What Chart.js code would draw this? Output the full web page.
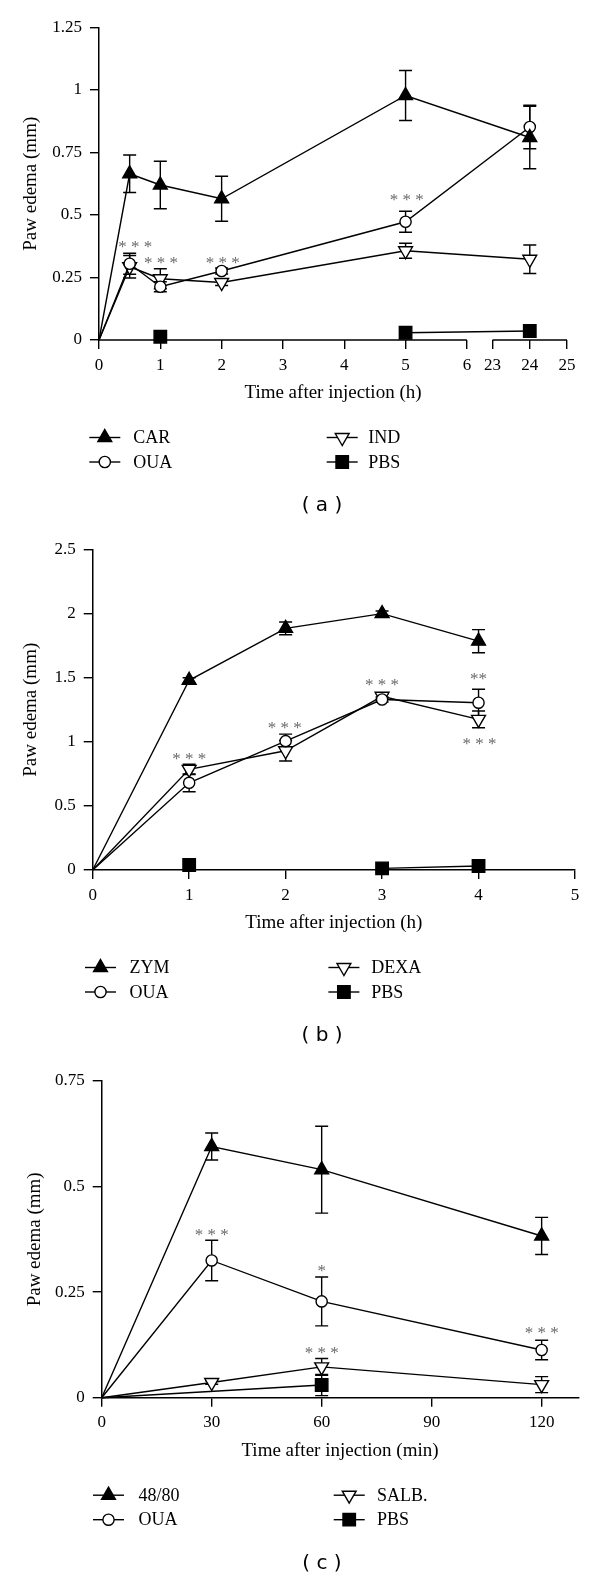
<!DOCTYPE html>
<html><head><meta charset="utf-8">
<script src="https://cdn.jsdelivr.net/npm/chart.js@4.4.1/dist/chart.umd.min.js"></script>
<style>
html,body{margin:0;padding:0;background:#fff;}
canvas{display:block;}
</style></head><body>
<canvas id="ca" width="600" height="526"></canvas>
<canvas id="cb" width="600" height="526"></canvas>
<canvas id="cc" width="600" height="525"></canvas>
<script>
// ================= DATA =================
// Panel (a): carrageenan, time in hours (broken axis 6 -> 23)
const timeA   = [0, 0.5, 1, 2, 5, 24];
const carA    = [0, 0.665, 0.62, 0.565, 0.978, 0.81];
const carErrA = [0, 0.075, 0.095, 0.09, 0.1, 0.125];
const ouaA    = [0, 0.305, 0.213, 0.276, 0.473, 0.852];
const ouaErrA = [0, 0.042, 0.02, 0.012, 0.042, 0.087];
const indA    = [0, 0.293, 0.245, 0.23, 0.357, 0.323];
const indErrA = [0, 0.045, 0.04, 0.012, 0.03, 0.057];
const pbsA    = [null, null, 0.013, null, 0.029, 0.036];
const xTicksA = [0, 1, 2, 3, 4, 5, 6, 23, 24, 25];
const yTicksA = [0, 0.25, 0.5, 0.75, 1, 1.25];
const sigXA   = [0.59, 1.01, 2.02, 5.02];
const sigYA   = [0.384, 0.32, 0.32, 0.573];
const sigTA   = ['* * *', '* * *', '* * *', '* * *'];

// Panel (b): zymosan, time in hours
const timeB    = [0, 1, 2, 3, 4];
const zymB     = [0, 1.48, 1.885, 2.0, 1.785];
const zymErrB  = [0, 0.02, 0.05, 0.02, 0.09];
const ouaB     = [0, 0.68, 1.005, 1.33, 1.305];
const ouaErrB  = [0, 0.07, 0.055, 0.02, 0.105];
const dexaB    = [0, 0.785, 0.93, 1.355, 1.175];
const dexaErrB = [0, 0.04, 0.08, 0.02, 0.065];
const pbsB     = [null, 0.039, null, 0.013, 0.031];
const xTicksB  = [0, 1, 2, 3, 4, 5];
const yTicksB  = [0, 0.5, 1, 1.5, 2, 2.5];
const sigXB    = [1, 1.99, 3, 4, 4.01];
const sigYB    = [0.889, 1.131, 1.469, 1.513, 1.009];
const sigTB    = ['* * *', '* * *', '* * *', '**', '* * *'];

// Panel (c): compound 48/80, time in minutes
const timeC    = [0, 30, 60, 120];
const c4880C   = [0, 0.595, 0.54, 0.383];
const c4880ErrC= [0, 0.032, 0.103, 0.044];
const ouaC     = [0, 0.325, 0.228, 0.113];
const ouaErrC  = [0, 0.048, 0.058, 0.023];
const salbC    = [0, 0.036, 0.073, 0.031];
const salbErrC = [0, 0.004, 0.02, 0.019];
const pbsC     = [0, null, 0.03, null];
const pbsErrC  = [0, 0, 0.025, 0];
const xTicksC  = [0, 30, 60, 90, 120];
const yTicksC  = [0, 0.25, 0.5, 0.75];
const sigXC    = [30, 60, 60, 120];
const sigYC    = [0.393, 0.308, 0.113, 0.16];
const sigTC    = ['* * *', '*', '* * *', '* * *'];

// ================= STYLE / LAYOUT =================
const SERIF = '"Liberation Serif", "DejaVu Serif", serif';
const SANS = '"DejaVu Sans", "Liberation Sans", sans-serif';
const LW = 1.4;
const CAP = 6.5;
// broken axis mapping for panel (a): 23..25 h squeezed after a gap
const GAP_A = 0.419, LATE_A = 0.607;
function brkA(t) { return t <= 6 ? t : 6 + GAP_A + (t - 23) * LATE_A; }

const STY = {
  tri:  { pointStyle: 'triangle', pointRotation: 0,   pointRadius: 8,   bg: '#000' },
  circ: { pointStyle: 'circle',   pointRotation: 0,   pointRadius: 5.6, bg: '#fff' },
  itri: { pointStyle: 'triangle', pointRotation: 180, pointRadius: 8,   bg: '#fff' },
  sq:   { pointStyle: 'rect',     pointRotation: 0,   pointRadius: 8.8, bg: '#000' }
};

function mkDs(label, xs, ys, errs, sty, span, xf) {
  const f = xf || (v => v);
  return {
    label,
    data: xs.map((x, i) => ({ x: f(x), y: ys[i] })),
    err: errs,
    sty,
    borderColor: '#000',
    borderWidth: LW,
    pointStyle: sty.pointStyle,
    pointRotation: sty.pointRotation,
    pointRadius: c => (c.raw && c.raw.x === 0 ? 0 : sty.pointRadius),
    pointBackgroundColor: sty.bg,
    pointBorderColor: '#000',
    pointBorderWidth: LW,
    pointHoverRadius: 0,
    fill: false,
    tension: 0,
    spanGaps: !!span,
    clip: false
  };
}

function drawMarker(ctx, sty, x, y) {
  ctx.save();
  ctx.fillStyle = sty.bg;
  ctx.strokeStyle = '#000';
  ctx.lineWidth = LW;
  Chart.helpers.drawPoint(ctx, {
    pointStyle: sty.pointStyle, rotation: sty.pointRotation,
    radius: sty.pointRadius, borderWidth: LW
  }, x, y);
  ctx.restore();
}

const decor = {
  id: 'decor',
  beforeDatasetsDraw(chart, args, o) {
    const ctx = chart.ctx, xs = chart.scales.x, ys = chart.scales.y;
    const ca = chart.chartArea;
    ctx.save();
    ctx.strokeStyle = '#000';
    // broken x axis line
    if (o.segments) {
      ctx.lineWidth = 1.5;
      o.segments.forEach(s => {
        ctx.beginPath();
        ctx.moveTo(xs.getPixelForValue(s[0]), ca.bottom);
        ctx.lineTo(xs.getPixelForValue(s[1]), ca.bottom);
        ctx.stroke();
      });
    }
    // error bars
    ctx.lineWidth = LW;
    chart.data.datasets.forEach(ds => {
      if (!ds.err) return;
      ds.data.forEach((p, j) => {
        const e = ds.err[j];
        if (p.y == null || !e) return;
        const px = xs.getPixelForValue(p.x);
        const y1 = ys.getPixelForValue(p.y + e), y2 = ys.getPixelForValue(p.y - e);
        ctx.beginPath();
        ctx.moveTo(px, y1); ctx.lineTo(px, y2);
        ctx.moveTo(px - CAP, y1); ctx.lineTo(px + CAP, y1);
        ctx.moveTo(px - CAP, y2); ctx.lineTo(px + CAP, y2);
        ctx.stroke();
      });
    });
    ctx.restore();
  },
  afterDraw(chart, args, o) {
    const ctx = chart.ctx, xs = chart.scales.x, ys = chart.scales.y;
    const ca = chart.chartArea;
    ctx.save();
    // significance stars
    ctx.fillStyle = '#6a6a6a';
    ctx.font = '17px ' + SERIF;
    ctx.textAlign = 'center';
    ctx.textBaseline = 'alphabetic';
    const xf = o.xf || (v => v);
    o.sigX.forEach((sx, i) => {
      const px = xs.getPixelForValue(xf(sx));
      const py = ys.getPixelForValue(o.sigY[i]);
      ctx.fillText(o.sigT[i], px, py + 0.47 * 17);
    });
    // legend
    const ds = chart.data.datasets;
    const rows = [ca.bottom + 97.5, ca.bottom + 122];
    const cols = o.legendCols;
    ctx.font = '18px ' + SERIF;
    ctx.textAlign = 'left';
    ctx.textBaseline = 'middle';
    o.legendOrder.forEach((di, k) => {
      const col = cols[Math.floor(k / 2)];
      const y = rows[k % 2];
      const x0 = ca.left + col[0], x1 = x0 + 31;
      ctx.strokeStyle = '#000';
      ctx.lineWidth = LW;
      ctx.beginPath(); ctx.moveTo(x0, y); ctx.lineTo(x1, y); ctx.stroke();
      drawMarker(ctx, ds[di].sty, (x0 + x1) / 2, y);
      ctx.fillStyle = '#000';
      ctx.fillText(ds[di].label, ca.left + col[1], y + 1);
    });
    // caption
    ctx.font = '20px ' + SANS;
    ctx.textAlign = 'center';
    ctx.fillStyle = '#000';
    ctx.fillText(o.caption, 322, ca.bottom + 166);
    ctx.restore();
  }
};

function mkChart(id, cfg) {
  const tickFont = { family: SERIF, size: 17 };
  const titleFont = { family: SERIF, size: 19 };
  return new Chart(document.getElementById(id), {
    type: 'line',
    data: { datasets: cfg.datasets },
    plugins: [decor],
    options: {
      responsive: false,
      animation: false,
      events: [],
      devicePixelRatio: 1,
      layout: { padding: { left: 0, top: cfg.top, right: cfg.right, bottom: cfg.bottom } },
      plugins: {
        legend: { display: false },
        tooltip: { enabled: false },
        decor: cfg.decor
      },
      scales: {
        x: {
          type: 'linear',
          min: cfg.xmin, max: cfg.xmax,
          afterFit: s => { s.height = 70; },
          afterBuildTicks: s => { s.ticks = cfg.xTickPos.map(v => ({ value: v })); },
          ticks: {
            autoSkip: false, maxRotation: 0, padding: 6, color: '#000', font: tickFont,
            callback: (v, i) => String(cfg.xTickLab[i])
          },
          grid: { display: true, drawOnChartArea: false, drawTicks: true, tickLength: 9, color: '#000', lineWidth: LW },
          border: { display: cfg.xBorder, color: '#000', width: 1.5 },
          title: { display: true, text: cfg.xTitle, color: '#000', font: titleFont, padding: { top: 0, bottom: 5.6 } }
        },
        y: {
          type: 'linear',
          min: cfg.ymin, max: cfg.ymax,
          afterFit: s => { s.width = cfg.left; },
          afterBuildTicks: s => { s.ticks = cfg.yTicks.map(v => ({ value: v })); },
          ticks: {
            autoSkip: false, padding: 8, color: '#000', font: tickFont,
            callback: (v, i) => String(cfg.yTicks[i])
          },
          grid: { display: true, drawOnChartArea: false, drawTicks: true, tickLength: 9, color: '#000', lineWidth: LW },
          border: { display: true, color: '#000', width: 1.5 },
          title: { display: true, text: 'Paw edema (mm)', color: '#000', font: titleFont, padding: { top: cfg.yTitlePad, bottom: 0 } }
        }
      }
    }
  });
}

// ---- Panel (a)
mkChart('ca', {
  datasets: [
    mkDs('CAR', timeA, carA, carErrA, STY.tri, false, brkA),
    mkDs('OUA', timeA, ouaA, ouaErrA, STY.circ, false, brkA),
    mkDs('IND', timeA, indA, indErrA, STY.itri, false, brkA),
    mkDs('PBS', timeA, pbsA, null, STY.sq, false, brkA)
  ],
  left: 99, top: 27.5, right: 33, bottom: 116,
  xmin: 0, xmax: brkA(25), xTickPos: xTicksA.map(brkA), xTickLab: xTicksA, xBorder: false,
  ymin: 0, ymax: 1.25, yTicks: yTicksA, yTitlePad: 19.6,
  xTitle: 'Time after injection (h)',
  decor: {
    segments: [[0, 6], [brkA(23), brkA(25)]],
    sigX: sigXA, sigY: sigYA, sigT: sigTA, xf: brkA,
    legendCols: [[-9.7, 34.3], [227.7, 269.3]], legendOrder: [0, 1, 2, 3],
    caption: '( a )'
  }
});

// ---- Panel (b)
mkChart('cb', {
  datasets: [
    mkDs('ZYM', timeB, zymB, zymErrB, STY.tri),
    mkDs('OUA', timeB, ouaB, ouaErrB, STY.circ),
    mkDs('DEXA', timeB, dexaB, dexaErrB, STY.itri),
    mkDs('PBS', timeB, pbsB, null, STY.sq)
  ],
  left: 92.7, top: 23.5, right: 25, bottom: 112,
  xmin: 0, xmax: 5, xTickPos: xTicksB, xTickLab: xTicksB, xBorder: true,
  ymin: 0, ymax: 2.5, yTicks: yTicksB, yTitlePad: 19.6,
  xTitle: 'Time after injection (h)',
  decor: {
    sigX: sigXB, sigY: sigYB, sigT: sigTB,
    legendCols: [[-7.7, 36.7], [235.7, 278.5]], legendOrder: [0, 1, 2, 3],
    caption: '( b )'
  }
});

// ---- Panel (c)
mkChart('cc', {
  datasets: [
    mkDs('48/80', timeC, c4880C, c4880ErrC, STY.tri),
    mkDs('OUA', timeC, ouaC, ouaErrC, STY.circ),
    mkDs('SALB.', timeC, salbC, salbErrC, STY.itri),
    mkDs('PBS', timeC, pbsC, pbsErrC, STY.sq, true)
  ],
  left: 101.7, top: 29, right: 21.7, bottom: 109.3,
  xmin: 0, xmax: 130, xTickPos: xTicksC, xTickLab: xTicksC, xBorder: true,
  ymin: 0, ymax: 0.75, yTicks: yTicksC, yTitlePad: 23.6,
  xTitle: 'Time after injection (min)',
  decor: {
    sigX: sigXC, sigY: sigYC, sigT: sigTC,
    legendCols: [[-8.7, 36.8], [232, 275.3]], legendOrder: [0, 1, 2, 3],
    caption: '( c )'
  }
});
</script>
</body></html>
